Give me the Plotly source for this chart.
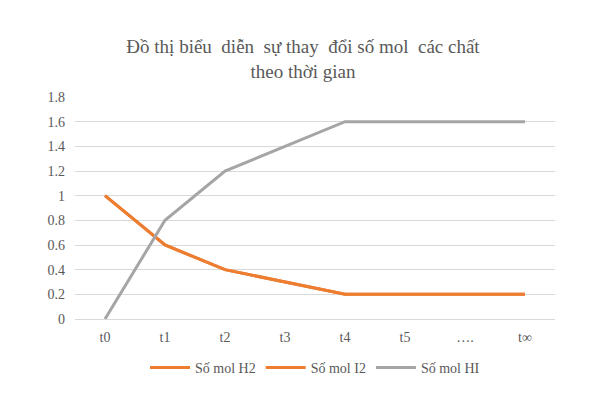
import plotly.graph_objects as go

categories = ["t0", "t1", "t2", "t3", "t4", "t5", "….", "t∞"]
mol_h2 = [1, 0.6, 0.4, 0.3, 0.2, 0.2, 0.2, 0.2]
mol_i2 = [1, 0.6, 0.4, 0.3, 0.2, 0.2, 0.2, 0.2]
mol_hi = [0, 0.8, 1.2, 1.4, 1.6, 1.6, 1.6, 1.6]
y_ticks = [0, 0.2, 0.4, 0.6, 0.8, 1, 1.2, 1.4, 1.6, 1.8]
y_tick_labels = ["0", "0.2", "0.4", "0.6", "0.8", "1", "1.2", "1.4", "1.6", "1.8"]

font_family = "Liberation Serif"
text_color = "#595959"

fig = go.Figure()
fig.add_trace(go.Scatter(x=categories, y=mol_h2, mode="lines", name="Số mol H2",
                         line=dict(color="#ED7D31", width=3)))
fig.add_trace(go.Scatter(x=categories, y=mol_i2, mode="lines", name="Số mol I2",
                         line=dict(color="#ED7D31", width=3)))
fig.add_trace(go.Scatter(x=categories, y=mol_hi, mode="lines", name="Số mol HI",
                         line=dict(color="#A5A5A5", width=3)))

fig.update_layout(
    width=603, height=396,
    margin=dict(l=67, r=56, t=89, b=85),
    paper_bgcolor="white", plot_bgcolor="white",
    font=dict(family=font_family, color=text_color, size=14),
    title=dict(text="Đồ thị biểu  diễn  sự thay  đổi số mol  các chất<br>theo thời gian",
               x=295 / 603, xref="container", xanchor="center",
               y=1 - 45 / 396, yref="container", yanchor="middle",
               font=dict(size=19, color=text_color, family=font_family)),
    showlegend=True,
    legend=dict(orientation="h", x=0.5, xanchor="center", y=-0.22, yanchor="middle",
                font=dict(size=14, color=text_color, family=font_family), itemwidth=40,
                traceorder="normal"),
    xaxis=dict(type="category", range=[-0.5, 7.5], showgrid=False,
               showline=True, linecolor="#D9D9D9", linewidth=1,
               ticks="", ticklabelstandoff=5,
               tickfont=dict(size=14, color=text_color, family=font_family),
               fixedrange=True),
    yaxis=dict(range=[0, 1.8], tickvals=y_ticks, ticktext=y_tick_labels,
               showgrid=True, gridcolor="#D9D9D9", gridwidth=1,
               zeroline=False, showline=False, ticks="", ticklabelstandoff=9,
               tickfont=dict(size=14, color=text_color, family=font_family),
               fixedrange=True),
)

fig.write_html("out.html")
